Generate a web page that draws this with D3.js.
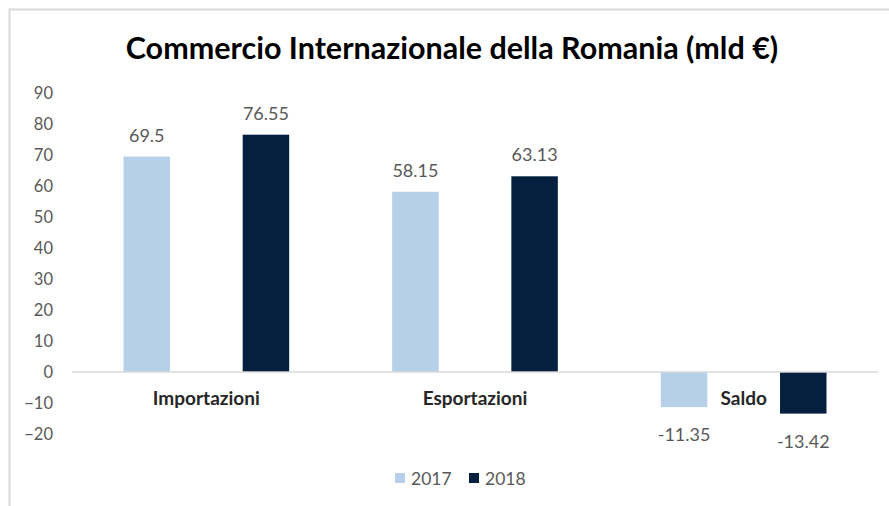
<!DOCTYPE html>
<html lang="en">
<head>
<meta charset="UTF-8">
<title>Commercio Internazionale della Romania</title>
<script src="https://cdn.jsdelivr.net/npm/d3@7"></script>
<style>
    body { margin: 0; background: #fff; }
    text { font-family: Lato, "Open Sans", sans-serif; }
</style>
</head>
<body>
<script>
    const categories = ["Importazioni", "Esportazioni", "Saldo"];
    const seriesNames = ["2017", "2018"];
    const values2017 = [69.5, 58.15, -11.35];
    const values2018 = [76.55, 63.13, -13.42];
    const yTicks = [90, 80, 70, 60, 50, 40, 30, 20, 10, 0, -10, -20];

    const colors = { "2017": "#b6d0e9", "2018": "#03203f" };

    const width = 889;
    const height = 506;

    const data = categories.map((c, i) => ({
        category: c,
        values: [
            { series: "2017", value: values2017[i] },
            { series: "2018", value: values2018[i] }
        ]
    }));

    const svg = d3.select("body")
        .append("svg")
        .attr("width", width)
        .attr("height", height);

    // chart frame (cut off at right and bottom like the screenshot)
    svg.append("rect")
        .attr("x", 9.5)
        .attr("y", 9.5)
        .attr("width", width + 20)
        .attr("height", height + 20)
        .attr("fill", "none")
        .attr("stroke", "#d9d9d9")
        .attr("stroke-width", 2);

    svg.append("text")
        .attr("x", 452)
        .attr("y", 59)
        .attr("text-anchor", "middle")
        .attr("font-size", 30.5)
        .attr("font-weight", "bold")
        .attr("fill", "#000")
        .text("Commercio Internazionale della Romania (mld \u20AC)");

    const y = d3.scaleLinear()
        .domain([-20, 90])
        .range([434, 93]);

    const x0 = d3.scaleBand()
        .domain(categories)
        .range([72, 878])
        .padding(0);

    const x1 = d3.scaleBand()
        .domain(seriesNames)
        .range([0, x0.bandwidth()])
        .paddingInner(0.61)
        .paddingOuter(0.432);

    // y axis labels only
    const yAxis = svg.append("g")
        .attr("transform", "translate(53,0)")
        .call(d3.axisLeft(y).tickValues(yTicks).tickSize(0).tickPadding(0));
    yAxis.select(".domain").remove();
    yAxis.selectAll("text")
        .attr("font-size", 16.5)
        .attr("fill", "#595959");

    const groups = svg.selectAll(".cat")
        .data(data)
        .enter()
        .append("g")
        .attr("class", "cat")
        .attr("transform", d => `translate(${x0(d.category)},0)`);

    groups.selectAll("rect")
        .data(d => d.values)
        .enter()
        .append("rect")
        .attr("x", d => x1(d.series))
        .attr("y", d => y(Math.max(0, d.value)))
        .attr("width", x1.bandwidth())
        .attr("height", d => Math.abs(y(d.value) - y(0)))
        .attr("fill", d => colors[d.series]);

    groups.selectAll(".label")
        .data(d => d.values)
        .enter()
        .append("text")
        .attr("class", "label")
        .attr("x", d => x1(d.series) + x1.bandwidth() / 2)
        .attr("y", d => d.value >= 0 ? y(d.value) - 15 : y(d.value) + 34)
        .attr("text-anchor", "middle")
        .attr("font-size", 18)
        .attr("fill", "#595959")
        .text(d => d.value);

    // zero line
    svg.append("line")
        .attr("x1", 72)
        .attr("x2", 878)
        .attr("y1", y(0))
        .attr("y2", y(0))
        .attr("stroke", "#d9d9d9")
        .attr("stroke-width", 1.5);

    // category labels under the zero line
    svg.selectAll(".catlabel")
        .data(categories)
        .enter()
        .append("text")
        .attr("class", "catlabel")
        .attr("x", d => x0(d) + x0.bandwidth() / 2)
        .attr("y", 405)
        .attr("text-anchor", "middle")
        .attr("font-size", 19)
        .attr("font-weight", "bold")
        .attr("fill", "#262626")
        .text(d => d);

    // legend
    const legendX = [395, 469];
    const legend = svg.selectAll(".legend")
        .data(seriesNames)
        .enter()
        .append("g")
        .attr("class", "legend")
        .attr("transform", (d, i) => `translate(${legendX[i]},478)`);

    legend.append("rect")
        .attr("x", 0)
        .attr("y", -5)
        .attr("width", 10)
        .attr("height", 10)
        .attr("fill", d => colors[d]);

    legend.append("text")
        .attr("x", 16)
        .attr("y", 6.5)
        .attr("font-size", 17.5)
        .attr("fill", "#595959")
        .text(d => d);
</script>
</body>
</html>
